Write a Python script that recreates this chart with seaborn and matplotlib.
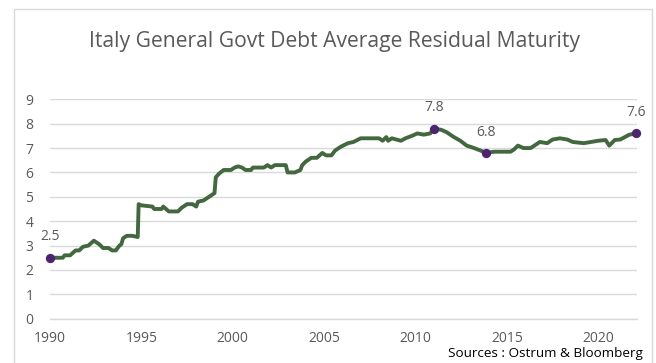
import matplotlib
matplotlib.use("Agg")
import matplotlib.pyplot as plt
import matplotlib.patches as mpatches
import pandas as pd
import seaborn as sns

# Average residual maturity (years)
dates = [1990.0, 1990.7, 1990.8, 1991.1, 1991.4, 1991.6, 1991.8, 1992.1, 1992.4, 1992.7,
         1992.9, 1993.2, 1993.4, 1993.6, 1993.8, 1993.9, 1994.0, 1994.2, 1994.5, 1994.8,
         1994.85, 1995.0, 1995.6, 1995.7, 1996.1, 1996.2, 1996.5, 1997.0, 1997.2, 1997.5,
         1997.8, 1998.0, 1998.1, 1998.4, 1998.7, 1999.0, 1999.07, 1999.25, 1999.5, 1999.9,
         2000.1, 2000.3, 2000.5, 2000.7, 2001.0, 2001.1, 2001.7, 2001.9, 2002.1, 2002.3,
         2002.9, 2003.0, 2003.4, 2003.7, 2003.8, 2004.0, 2004.3, 2004.6, 2004.9, 2005.1,
         2005.4, 2005.6, 2005.9, 2006.3, 2006.6, 2007.0, 2008.0, 2008.2, 2008.4, 2008.5,
         2008.7, 2009.2, 2009.45, 2009.8, 2010.1, 2010.45, 2010.8, 2011.0, 2011.4, 2011.7,
         2012.1, 2012.45, 2012.8, 2013.2, 2013.55, 2013.85, 2014.3, 2015.2, 2015.4, 2015.6,
         2015.9, 2016.3, 2016.5, 2016.8, 2017.2, 2017.5, 2017.9, 2018.3, 2018.6, 2019.2,
         2019.6, 2020.0, 2020.4, 2020.6, 2020.9, 2021.2, 2021.45, 2021.7, 2022.05]
maturity = [2.5, 2.5, 2.6, 2.6, 2.8, 2.8, 2.95, 3.0, 3.2, 3.05,
            2.9, 2.9, 2.8, 2.8, 3.0, 3.05, 3.3, 3.4, 3.4, 3.35,
            4.7, 4.65, 4.6, 4.5, 4.5, 4.6, 4.4, 4.4, 4.55, 4.7,
            4.7, 4.6, 4.8, 4.85, 5.0, 5.15, 5.8, 5.95, 6.1, 6.1,
            6.2, 6.25, 6.2, 6.1, 6.1, 6.2, 6.2, 6.3, 6.2, 6.3,
            6.3, 6.0, 6.0, 6.1, 6.3, 6.45, 6.6, 6.6, 6.8, 6.7,
            6.7, 6.9, 7.05, 7.2, 7.25, 7.4, 7.4, 7.3, 7.45, 7.3,
            7.4, 7.3, 7.4, 7.5, 7.6, 7.55, 7.6, 7.8, 7.75, 7.65,
            7.45, 7.3, 7.1, 7.0, 6.9, 6.8, 6.85, 6.85, 6.95, 7.1,
            7.0, 7.0, 7.1, 7.25, 7.2, 7.35, 7.4, 7.35, 7.25, 7.2,
            7.25, 7.3, 7.33, 7.1, 7.33, 7.35, 7.45, 7.55, 7.6]

# Highlighted points
mark_dates = [1990.0, 2011.0, 2013.85, 2022.05]
mark_values = [2.5, 7.8, 6.8, 7.6]
mark_labels = ["2.5", "7.8", "6.8", "7.6"]

GREY = "#595959"
GRID = "#D9D9D9"
LINE = "#43683F"
DOT = "#4E2370"

sns.set_style("white")
plt.rcParams["font.family"] = ["Open Sans", "DejaVu Sans"]

fig = plt.figure(figsize=(6.56, 3.63), dpi=100)
ax = fig.add_axes([50 / 656, 44.3 / 363, 586.7 / 656, 219.4 / 363])

df = pd.DataFrame({"date": dates, "maturity": maturity})
sns.lineplot(data=df, x="date", y="maturity", color=LINE, linewidth=2.8, ax=ax)
sns.scatterplot(x=mark_dates, y=mark_values, color=DOT, s=45, edgecolor=DOT,
                linewidth=0, zorder=5, ax=ax)
ax.collections[-1].set_clip_on(False)
for x, y, lab in zip(mark_dates, mark_values, mark_labels):
    ax.annotate(lab, (x, y), xytext=(0, 15), textcoords="offset points",
                ha="center", va="center", fontsize=10, color=GREY)

ax.set_xlim(1990, 2022.1)
ax.set_ylim(0, 9)
ax.set_xticks(range(1990, 2021, 5))
ax.set_yticks(range(0, 10))
ax.grid(axis="y", color=GRID, linewidth=1)
ax.set_axisbelow(True)
for s in ["top", "right", "left"]:
    ax.spines[s].set_visible(False)
ax.spines["bottom"].set_color(GRID)
ax.spines["bottom"].set_linewidth(1)
ax.tick_params(axis="x", length=4, color=GRID, labelsize=10, labelcolor=GREY, pad=5)
ax.tick_params(axis="y", length=0, labelsize=10, labelcolor=GREY, pad=12)
ax.set_xlabel("")
ax.set_ylabel("")

fig.text(335 / 656, 1 - 42 / 363, "Italy General Govt Debt Average Residual Maturity",
         ha="center", va="center", fontsize=15.2, color=GREY)
fig.text(643 / 656, 1 - 353 / 363, "Sources : Ostrum & Bloomberg",
         ha="right", va="center", fontsize=9.7, color="black")

# chart frame
fig.patches.append(mpatches.Rectangle((14 / 656, -0.02), 638 / 656, 0.995,
                                      transform=fig.transFigure, fill=False,
                                      edgecolor=GRID, linewidth=1))

fig.savefig("out.png", dpi=100)
